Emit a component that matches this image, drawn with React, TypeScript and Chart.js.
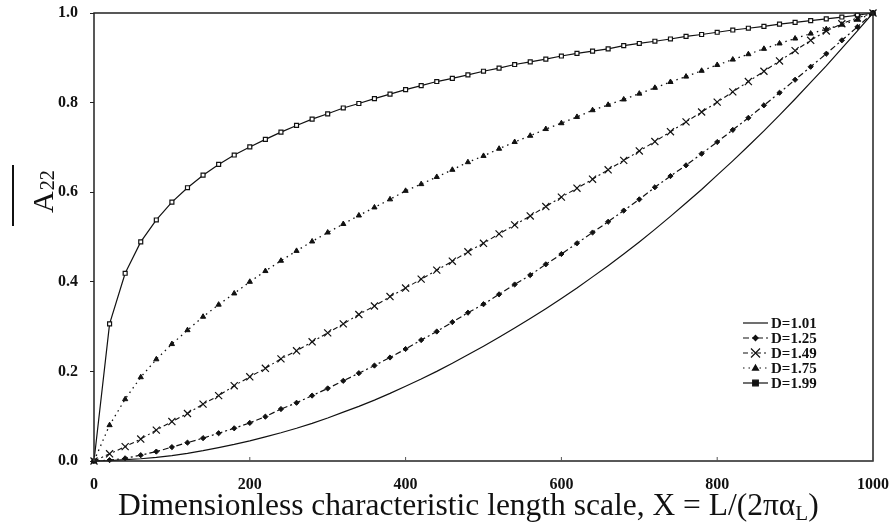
import React, { useEffect, useRef } from 'react';
import { Chart, registerables } from 'chart.js';

Chart.register(...registerables);

const xValues = [0, 20, 40, 60, 80, 100, 120, 140, 160, 180, 200, 220, 240, 260, 280, 300, 320, 340, 360, 380, 400, 420, 440, 460, 480, 500, 520, 540, 560, 580, 600, 620, 640, 660, 680, 700, 720, 740, 760, 780, 800, 820, 840, 860, 880, 900, 920, 940, 960, 980, 1000];

const d101 = [0, 0.001, 0.003, 0.005, 0.008, 0.012, 0.017, 0.023, 0.030, 0.037, 0.045, 0.054, 0.063, 0.073, 0.084, 0.096, 0.109, 0.122, 0.136, 0.151, 0.167, 0.183, 0.200, 0.218, 0.237, 0.256, 0.276, 0.297, 0.318, 0.340, 0.363, 0.386, 0.411, 0.436, 0.462, 0.489, 0.517, 0.546, 0.576, 0.606, 0.638, 0.670, 0.703, 0.737, 0.772, 0.808, 0.845, 0.882, 0.921, 0.960, 1.0];

const d125 = [0, 0.002, 0.006, 0.013, 0.021, 0.031, 0.041, 0.051, 0.062, 0.073, 0.085, 0.099, 0.116, 0.130, 0.146, 0.162, 0.179, 0.196, 0.213, 0.231, 0.250, 0.270, 0.289, 0.310, 0.331, 0.350, 0.372, 0.394, 0.415, 0.439, 0.462, 0.486, 0.510, 0.534, 0.559, 0.584, 0.611, 0.636, 0.660, 0.686, 0.712, 0.739, 0.766, 0.794, 0.822, 0.851, 0.880, 0.909, 0.939, 0.969, 1.0];

const d149 = [0, 0.016, 0.032, 0.049, 0.069, 0.088, 0.106, 0.127, 0.146, 0.168, 0.188, 0.207, 0.228, 0.246, 0.266, 0.286, 0.306, 0.327, 0.346, 0.367, 0.386, 0.406, 0.426, 0.446, 0.467, 0.486, 0.507, 0.527, 0.547, 0.568, 0.589, 0.609, 0.629, 0.650, 0.671, 0.692, 0.713, 0.735, 0.757, 0.779, 0.801, 0.824, 0.847, 0.870, 0.893, 0.916, 0.939, 0.960, 0.976, 0.989, 1.0];

const d175 = [0, 0.080, 0.138, 0.187, 0.227, 0.261, 0.292, 0.322, 0.349, 0.374, 0.400, 0.424, 0.447, 0.469, 0.490, 0.510, 0.529, 0.548, 0.566, 0.584, 0.603, 0.618, 0.634, 0.650, 0.667, 0.681, 0.697, 0.712, 0.726, 0.741, 0.754, 0.768, 0.783, 0.795, 0.807, 0.820, 0.833, 0.846, 0.858, 0.871, 0.884, 0.896, 0.908, 0.920, 0.932, 0.943, 0.954, 0.964, 0.974, 0.985, 1.0];

const d199 = [0, 0.306, 0.419, 0.489, 0.538, 0.578, 0.610, 0.638, 0.662, 0.683, 0.701, 0.718, 0.734, 0.749, 0.763, 0.775, 0.788, 0.798, 0.809, 0.819, 0.829, 0.838, 0.847, 0.854, 0.862, 0.870, 0.877, 0.885, 0.891, 0.897, 0.904, 0.910, 0.915, 0.920, 0.927, 0.932, 0.937, 0.942, 0.948, 0.952, 0.957, 0.962, 0.966, 0.970, 0.975, 0.979, 0.983, 0.987, 0.991, 0.995, 1.0];

const seriesLabels = ['D=1.01', 'D=1.25', 'D=1.49', 'D=1.75', 'D=1.99'];
const xTicks = [0, 200, 400, 600, 800, 1000];
const yTicks = [0, 0.2, 0.4, 0.6, 0.8, 1.0];
const xTitle = 'Dimensionless characteristic length scale, X = L/(2πα';
const xTitleSub = 'L';
const yTitleMain = 'A';
const yTitleSub = '22';

const INK = '#111';
const SERIF = '"Liberation Serif", "DejaVu Serif", serif';

function toPoints(ys: number[]) {
  return xValues.map((x, i) => ({ x, y: ys[i] }));
}

function drawMarker(ctx: CanvasRenderingContext2D, style: string, x: number, y: number, r: number, fill: string) {
  ctx.save();
  ctx.strokeStyle = INK;
  ctx.fillStyle = fill;
  ctx.setLineDash([]);
  ctx.lineWidth = 1.2;
  ctx.beginPath();
  if (style === 'rectRot') {
    ctx.moveTo(x, y - r); ctx.lineTo(x + r, y); ctx.lineTo(x, y + r); ctx.lineTo(x - r, y); ctx.closePath();
    ctx.fill(); ctx.stroke();
  } else if (style === 'crossRot') {
    ctx.moveTo(x - r, y - r); ctx.lineTo(x + r, y + r);
    ctx.moveTo(x + r, y - r); ctx.lineTo(x - r, y + r);
    ctx.stroke();
  } else if (style === 'triangle') {
    ctx.moveTo(x, y - r); ctx.lineTo(x + r, y + r * 0.7); ctx.lineTo(x - r, y + r * 0.7); ctx.closePath();
    ctx.fill(); ctx.stroke();
  } else if (style === 'rect') {
    ctx.rect(x - r, y - r, 2 * r, 2 * r);
    ctx.fill(); ctx.stroke();
  }
  ctx.restore();
}

const decorPlugin = {
  id: 'decor',
  afterDraw(chart: any) {
    const { ctx, chartArea } = chart;
    const { left, right, top, bottom } = chartArea;
    ctx.save();
    // frame
    ctx.strokeStyle = '#222';
    ctx.lineWidth = 1.5;
    ctx.setLineDash([]);
    ctx.strokeRect(left, top, right - left, bottom - top);
    // inward x tick marks
    const xs = chart.scales.x;
    ctx.lineWidth = 1;
    ctx.strokeStyle = '#555';
    xTicks.forEach((v) => {
      const px = xs.getPixelForValue(v);
      ctx.beginPath();
      ctx.moveTo(px, bottom);
      ctx.lineTo(px, bottom - 4);
      ctx.stroke();
    });

    // x title
    ctx.fillStyle = INK;
    ctx.textBaseline = 'alphabetic';
    ctx.textAlign = 'left';
    ctx.font = `31.5px ${SERIF}`;
    let tx = left + 24;
    const ty = bottom + 54;
    ctx.fillText(xTitle, tx, ty);
    tx += ctx.measureText(xTitle).width;
    ctx.font = `21px ${SERIF}`;
    ctx.fillText(xTitleSub, tx, ty + 5);
    tx += ctx.measureText(xTitleSub).width;
    ctx.font = `31.5px ${SERIF}`;
    ctx.fillText(')', tx, ty);

    // y title (rotated)
    ctx.save();
    ctx.translate(left - 41, top + 200);
    ctx.rotate(-Math.PI / 2);
    ctx.font = `30px ${SERIF}`;
    ctx.fillText(yTitleMain, 0, 0);
    const wA = ctx.measureText(yTitleMain).width;
    ctx.font = `20px ${SERIF}`;
    ctx.fillText(yTitleSub, wA + 1, 1);
    ctx.fillRect(-13, -41, 61, 2);
    ctx.restore();

    // legend
    const rowY0 = top + 310;
    const lx0 = right - 130;
    const lx1 = right - 105;
    chart.data.datasets.forEach((ds: any, i: number) => {
      const y = rowY0 + i * 15;
      ctx.save();
      ctx.strokeStyle = INK;
      ctx.lineWidth = 1.2;
      ctx.setLineDash(ds.borderDash || []);
      ctx.beginPath();
      ctx.moveTo(lx0, y);
      ctx.lineTo(lx1, y);
      ctx.stroke();
      ctx.restore();
      if (ds.pointStyle && ds.pointRadius > 0) {
        drawMarker(ctx, ds.pointStyle, (lx0 + lx1) / 2, y, ds.pointStyle === 'crossRot' ? 4.5 : ds.pointRadius, INK);
      }
      ctx.fillStyle = INK;
      ctx.font = `bold 15px ${SERIF}`;
      ctx.textBaseline = 'middle';
      ctx.textAlign = 'left';
      ctx.fillText(ds.label, lx1 + 3, y + 1);
    });
    ctx.restore();
  },
};

export default function App() {
  const canvasRef = useRef<HTMLCanvasElement | null>(null);

  useEffect(() => {
    document.body.style.margin = '0';
    const canvas = canvasRef.current;
    if (!canvas) return;
    const chart = new Chart(canvas, {
      type: 'line',
      data: {
        datasets: [
          {
            label: seriesLabels[0],
            data: toPoints(d101),
            borderColor: INK,
            borderWidth: 1.2,
            pointRadius: 0,
            pointStyle: false as any,
            fill: false,
            clip: false as any,
          },
          {
            label: seriesLabels[1],
            data: toPoints(d125),
            borderColor: INK,
            borderWidth: 1.2,
            borderDash: [6, 3, 2, 3],
            pointStyle: 'rectRot',
            pointRadius: 2.6,
            pointBackgroundColor: INK,
            pointBorderColor: INK,
            pointBorderWidth: 1,
            fill: false,
            clip: false as any,
          },
          {
            label: seriesLabels[2],
            data: toPoints(d149),
            borderColor: INK,
            borderWidth: 1.1,
            borderDash: [5, 3, 2, 3],
            pointStyle: 'crossRot',
            pointRadius: 5,
            pointBorderColor: INK,
            pointBorderWidth: 1.2,
            fill: false,
            clip: false as any,
          },
          {
            label: seriesLabels[3],
            data: toPoints(d175),
            borderColor: INK,
            borderWidth: 1.3,
            borderDash: [1.5, 4],
            pointStyle: 'triangle',
            pointRadius: 3,
            pointBackgroundColor: INK,
            pointBorderColor: INK,
            pointBorderWidth: 1,
            fill: false,
            clip: false as any,
          },
          {
            label: seriesLabels[4],
            data: toPoints(d199),
            borderColor: INK,
            borderWidth: 1.2,
            pointStyle: 'rect',
            pointRadius: 2.8,
            pointBackgroundColor: '#fff',
            pointBorderColor: INK,
            pointBorderWidth: 1.2,
            fill: false,
            clip: false as any,
          },
        ],
      },
      options: {
        responsive: false,
        animation: false,
        events: [],
        layout: { padding: { top: 13, right: 16, left: 0, bottom: 0 } },
        plugins: {
          legend: { display: false },
          tooltip: { enabled: false },
          title: { display: false },
        },
        scales: {
          x: {
            type: 'linear',
            min: 0,
            max: 1000,
            afterBuildTicks: (scale: any) => {
              scale.ticks = xTicks.map((v) => ({ value: v }));
            },
            afterFit: (scale: any) => {
              scale.height = 64;
              scale.paddingLeft = 0;
              scale.paddingRight = 0;
            },
            grid: { display: false, drawTicks: false },
            border: { display: false },
            ticks: {
              color: INK,
              padding: 14,
              maxRotation: 0,
              font: { family: SERIF, size: 16, weight: 'bold' },
              callback: (v: any) => String(v),
            },
          },
          y: {
            type: 'linear',
            min: 0,
            max: 1,
            afterBuildTicks: (scale: any) => {
              scale.ticks = yTicks.map((v) => ({ value: v }));
            },
            afterFit: (scale: any) => {
              scale.width = 94;
              scale.paddingTop = 0;
              scale.paddingBottom = 0;
            },
            grid: { drawOnChartArea: false, drawTicks: true, tickLength: 4, color: '#222' },
            border: { display: false },
            ticks: {
              color: INK,
              padding: 12,
              font: { family: SERIF, size: 16, weight: 'bold' },
              callback: (v: any) => Number(v).toFixed(1),
            },
          },
        },
      },
      plugins: [decorPlugin],
    });
    return () => chart.destroy();
  }, []);

  return (
    <div style={{ position: 'absolute', left: 0, top: 0, width: 889, height: 525, background: '#fff' }}>
      <canvas ref={canvasRef} width={889} height={525} />
    </div>
  );
}
